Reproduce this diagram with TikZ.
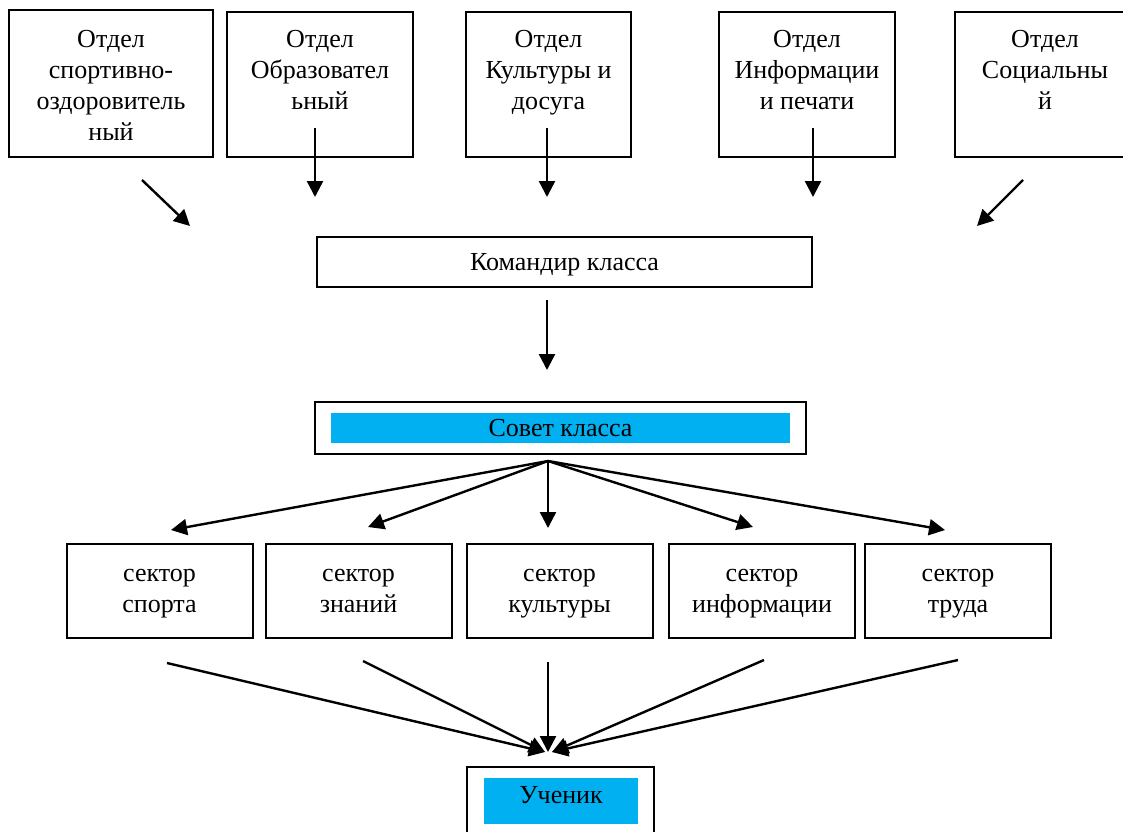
\documentclass[tikz,border=0pt]{standalone}
\usepackage{fontspec}
\setmainfont{Liberation Serif}
\usetikzlibrary{arrows.meta,positioning}
\definecolor{councilblue}{HTML}{00B0F0}

\begin{document}
\begin{tikzpicture}
		[x=1pt, y=-1pt,
		font=\fontsize{26}{31}\selectfont,
		dept/.style ={rectangle, draw=black, line width=2pt, minimum height=145pt},
		depttext/.style ={anchor=north, align=center, inner sep=0pt},
		block/.style ={rectangle, draw=black, line width=2pt, minimum height=50pt},
		sector/.style ={rectangle, draw=black, line width=2pt, minimum width=186pt, minimum height=94pt, align=center, text depth=0pt},
		tag/.style ={rectangle, fill=councilblue, inner sep=0pt},
		line/.style ={line width=2.4pt, -{Triangle[length=16pt,width=16pt]}}]
		\useasboundingbox (0,0) rectangle (1123,831);

		% departments
		\node[dept, minimum width=204pt, minimum height=147pt] (sport) at (111,83.5) {};
		\node[dept, minimum width=186pt] (edu) at (320,84.5) {};
		\node[dept, minimum width=165pt] (cult) at (548.5,84.5) {};
		\node[dept, minimum width=176pt] (info) at (807,84.5) {};
		\node[dept, minimum width=180pt] (soc) at (1045,84.5) {};
		\node[depttext] (sporttext) at ([yshift=-21pt]sport.north) {Отдел\\спортивно-\\оздоровитель\\ный};
		\node[depttext] (edutext) at ([yshift=-19pt]edu.north) {Отдел\\Образовател\\ьный};
		\node[depttext] (culttext) at ([yshift=-19pt]cult.north) {Отдел\\Культуры и\\досуга};
		\node[depttext] (infotext) at ([yshift=-19pt]info.north) {Отдел\\Информации\\и печати};
		\node[depttext] (soctext) at ([yshift=-19pt]soc.north) {Отдел\\Социальны\\й};

		% commander and council
		\node[block, minimum width=495pt, text depth=0pt] (cmd) at (564.5,262) {Командир класса};
		\node[block, minimum width=491pt, minimum height=52pt] (council) at (560.5,428) {};
		\node[tag, minimum width=459pt, minimum height=30pt] (counciltag) at (council.center) {Совет класса};

		% sectors
		\node[sector] (sports) at (159.5,591) {сектор\\спорта};
		\node[sector] (know) at (358.5,591) {сектор\\знаний};
		\node[sector] (cultsec) at (559.5,591) {сектор\\культуры};
		\node[sector] (infosec) at (762,591) {сектор\\информации};
		\node[sector] (work) at (958,591) {сектор\\труда};

		% pupil
		\node[rectangle, draw=black, line width=2pt, minimum width=187pt, minimum height=103pt] (pupil) at (560.5,818.5) {};
		\node[tag, minimum width=154pt, minimum height=46pt, text height=18pt, text depth=14pt] (pupiltag) at (561,801) {Ученик};

		% arrow ends
		\coordinate (sport-a) at (142,180);
		\coordinate (sport-b) at (190,226);
		\coordinate (edu-a) at (315,128);
		\coordinate (edu-b) at (315,197);
		\coordinate (cult-a) at (547,128);
		\coordinate (cult-b) at (547,197);
		\coordinate (info-a) at (813,128);
		\coordinate (info-b) at (813,197);
		\coordinate (soc-a) at (1023,180);
		\coordinate (soc-b) at (977,226);
		\coordinate (cmd-a) at (547,300);
		\coordinate (cmd-b) at (547,370);
		\coordinate (fan) at (548,461);
		\coordinate (sports-in) at (171,530);
		\coordinate (know-in) at (368,527);
		\coordinate (cultsec-in) at (548,528);
		\coordinate (infosec-in) at (753,527);
		\coordinate (work-in) at (945,530);
		\coordinate (sports-out) at (167,663);
		\coordinate (know-out) at (363,661);
		\coordinate (cultsec-out) at (548,662);
		\coordinate (infosec-out) at (764,660);
		\coordinate (work-out) at (958,660);
		\coordinate (pupil-l) at (545,752);
		\coordinate (pupil-c) at (548,752);
		\coordinate (pupil-r) at (552,752);

		\path[line]
		(sport-a) edge (sport-b)
		(edu-a) edge (edu-b)
		(cult-a) edge (cult-b)
		(info-a) edge (info-b)
		(soc-a) edge (soc-b)
		(cmd-a) edge (cmd-b);

		\path[line]
		(fan) edge (sports-in)
		(fan) edge (know-in)
		(fan) edge (cultsec-in)
		(fan) edge (infosec-in)
		(fan) edge (work-in);

		\path[line]
		(sports-out) edge (pupil-l)
		(know-out) edge (pupil-l)
		(cultsec-out) edge (pupil-c)
		(infosec-out) edge (pupil-r)
		(work-out) edge (pupil-r);

	\end{tikzpicture}
\end{document}
